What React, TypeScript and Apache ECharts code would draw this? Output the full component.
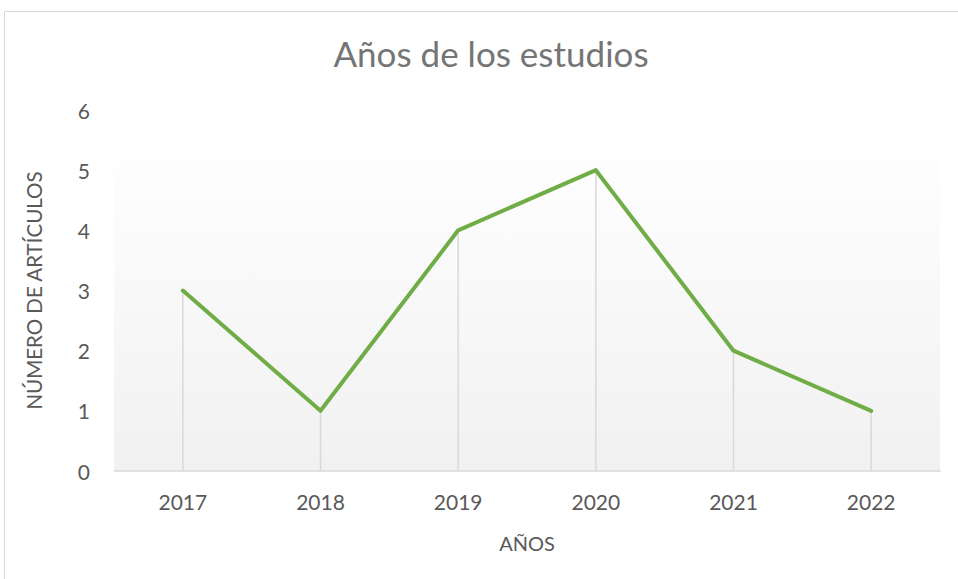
import React, { useEffect, useRef } from "react";
import * as echarts from "echarts";

const categories = ["2017", "2018", "2019", "2020", "2021", "2022"];
const values = [3, 1, 4, 5, 2, 1];
const titleText = "Años de los estudios";
const yName = "NÚMERO DE ARTÍCULOS";
const xName = "AÑOS";

const FONT = "Lato, 'Open Sans', sans-serif";

export default function App() {
  const ref = useRef<HTMLDivElement>(null);
  useEffect(() => {
    if (!ref.current) return;
    const chart = echarts.init(ref.current, null, { renderer: "svg" });
    chart.setOption({
      animation: false,
      backgroundColor: "#ffffff",
      textStyle: { fontFamily: FONT },
      title: {
        text: titleText,
        left: 486,
        top: 30,
        textAlign: "center",
        textStyle: { fontFamily: FONT, fontSize: 35, fontWeight: "normal", color: "#757575" },
      },
      graphic: [
        {
          type: "rect",
          shape: { x: 4.5, y: 11.5, width: 960, height: 580 },
          style: { fill: "none", stroke: "#d9d9d9", lineWidth: 1 },
          silent: true,
          z: -1,
        },
      ],
      grid: {
        left: 114,
        right: 18,
        top: 110,
        bottom: 108,
        show: true,
        borderWidth: 0,
        backgroundColor: {
          type: "linear",
          x: 0, y: 0, x2: 0, y2: 1,
          colorStops: [
            { offset: 0, color: "#ffffff" },
            { offset: 0.13, color: "#fefefe" },
            { offset: 1, color: "#f1f1f1" },
          ],
        },
      },
      xAxis: {
        type: "category",
        data: categories,
        boundaryGap: true,
        name: xName,
        nameLocation: "middle",
        nameGap: 62,
        nameTextStyle: { fontFamily: FONT, fontSize: 20, color: "#595959" },
        axisLine: { lineStyle: { color: "#d9d9d9", width: 1.5 } },
        axisTick: { show: false },
        axisLabel: { fontFamily: FONT, fontSize: 21, color: "#595959", margin: 20 },
        splitLine: { show: false },
      },
      yAxis: {
        type: "value",
        min: 0,
        max: 6,
        interval: 1,
        name: yName,
        nameLocation: "middle",
        nameGap: 70,
        nameRotate: 90,
        nameTextStyle: { fontFamily: FONT, fontSize: 20.5, color: "#595959" },
        axisLine: { show: false },
        axisTick: { show: false },
        axisLabel: { fontFamily: FONT, fontSize: 21, color: "#595959", margin: 24 },
        splitLine: { show: false },
      },
      series: [
        {
          type: "bar",
          data: values,
          barWidth: 1.5,
          itemStyle: { color: "#d9d9d9" },
          silent: true,
          z: 1,
        },
        {
          type: "line",
          data: values,
          showSymbol: false,
          symbol: "none",
          lineStyle: { color: "#70ad47", width: 4, cap: "round", join: "round" },
          z: 2,
        },
      ],
    });
    return () => chart.dispose();
  }, []);
  return <div ref={ref} style={{ width: 958, height: 579, position: "absolute", left: 0, top: 0 }} />;
}
